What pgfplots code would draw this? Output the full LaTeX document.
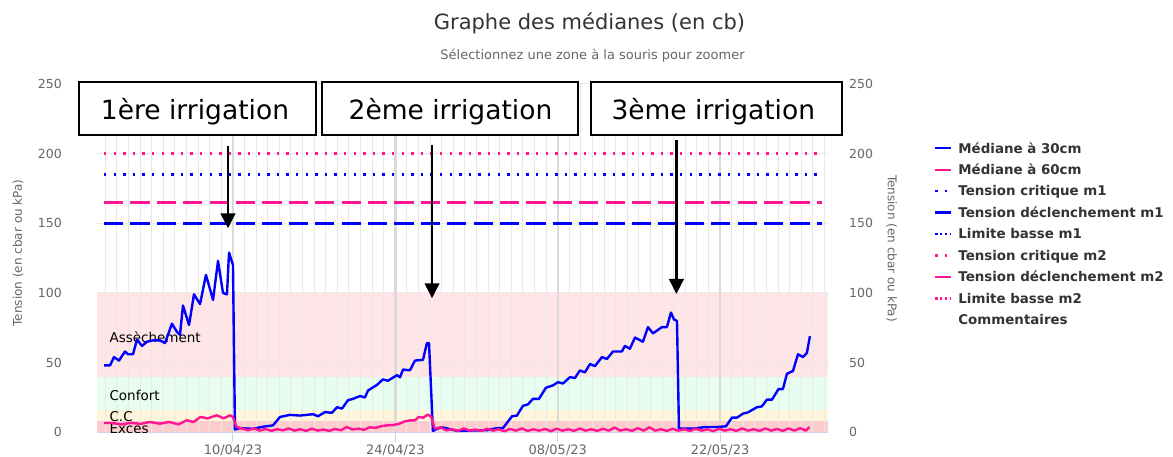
\documentclass[border=0pt]{standalone}
\usepackage{fontspec}
\setmainfont{DejaVu Sans}
\usepackage{pgfplots}
\pgfplotsset{compat=1.18}
\usetikzlibrary{arrows.meta}
\definecolor{mblue}{RGB}{0,0,255}
\definecolor{mpink}{RGB}{255,20,147}
\definecolor{bandA}{RGB}{255,229,229}
\definecolor{bandB}{RGB}{230,253,240}
\definecolor{bandC}{RGB}{254,246,218}
\definecolor{bandD}{RGB}{253,205,205}
\definecolor{gridc}{RGB}{232,232,232}
\definecolor{majgrid}{RGB}{218,218,218}
\definecolor{axisc}{RGB}{204,214,235}
\definecolor{tickc}{RGB}{102,102,102}
\definecolor{titlec}{RGB}{51,51,51}
\newcommand{\fs}[1]{\fontsize{#1}{#1}\selectfont}
\tikzset{
 dotted2/.style={dash pattern=on 2.4pt off 7.2pt, line cap=butt},
 longdash/.style={dash pattern=on 19.2pt off 7.2pt, line cap=butt},
 shortdot/.style={dash pattern=on 2.4pt off 2.4pt, line cap=butt},
}
\begin{document}
\begin{tikzpicture}[x=1pt,y=1pt]
\useasboundingbox (0,0) rectangle (1173,457);
\begin{axis}[
 at={(96.7pt,24.7pt)}, anchor=south west,
 scale only axis, width=731.3pt, height=348.3pt,
 xmin=-11.75, xmax=51.3, ymin=0, ymax=250,
 axis x line*=bottom, axis y line*=left,
 x axis line style={draw=axisc, line width=1pt},
 y axis line style={draw=none},
 xtick={0,14,28,42}, xticklabels={10/04/23,24/04/23,08/05/23,22/05/23},
 ytick={0,50,...,250},
 tick align=outside,
 major tick length=10pt,
 xtick style={draw=axisc, line width=1pt},
 ytick style={draw=none},
 /pgf/number format/assume math mode=true,
 yticklabel style={font=\fs{12.5}, text=tickc, anchor=east, inner sep=0pt, xshift=-24.7pt},
 xticklabel style={font=\fs{13}, text=tickc, anchor=north, inner sep=0pt, yshift=-2.5pt},
 ylabel={Tension (en cbar ou kPa)},
 ylabel style={font=\fs{12}, text=tickc, at={(axis description cs:-0.1076,0.5148)}, anchor=center},
 legend style={at={(1.14495,0.8362)}, anchor=north west, draw=none, fill=none,
   inner sep=0pt, outer sep=0pt, row sep=6.96pt, column sep=6pt,
   font=\fs{13.4}\bfseries, text=titlec,
   nodes={inner sep=0pt, text height=12pt, text depth=2.5pt}},
 legend image code/.code={\draw[#1] (0pt,0pt) -- (16pt,0pt);},
 legend cell align=left,
]
% bands (stacked from the top band down)
\addplot[forget plot, draw=none, fill=bandA] coordinates {(-11.75,100) (51.3,100)} \closedcycle;
\addplot[forget plot, draw=none, fill=bandB] coordinates {(-11.75,40) (51.3,40)} \closedcycle;
\addplot[forget plot, draw=none, fill=bandC] coordinates {(-11.75,16) (51.3,16)} \closedcycle;
\addplot[forget plot, draw=none, fill=bandD] coordinates {(-11.75,8) (51.3,8)} \closedcycle;
% grid
\pgfplotsinvokeforeach{-11,...,51}{\draw[gridc, line width=1pt] (axis cs:#1,0) -- (axis cs:#1,250);}
\pgfplotsinvokeforeach{50,100,150,200,250}{\draw[gridc, line width=1pt] (axis cs:-11.75,#1) -- (axis cs:51.3,#1);}
\pgfplotsinvokeforeach{0,14,28,42}{\draw[majgrid, line width=2.5pt] (axis cs:#1,0) -- (axis cs:#1,250);}
% band labels (clipped to the plot area)
\begin{scope}
\clip (axis cs:-11.75,0) rectangle (axis cs:51.3,250);
\node[anchor=base west, font=\fs{13.5}, inner sep=0pt] at (axis cs:-10.66,64.3) {Assèchement};
\node[anchor=base west, font=\fs{13.5}, inner sep=0pt] at (axis cs:-10.66,22.7) {Confort};
\node[anchor=base west, font=\fs{13.5}, inner sep=0pt] at (axis cs:-10.66,7.6) {C.C};
\node[anchor=base west, font=\fs{13.5}, inner sep=0pt] at (axis cs:-10.66,-1.2) {Excès};
\end{scope}
% Médiane à 30cm
\addplot[mblue, line width=2.4pt, line join=round] coordinates {
(-11.12,48) (-10.60,48) (-10.26,54) (-9.83,51.5) (-9.31,58) (-9.05,56) (-8.62,56)
(-8.28,66.5) (-7.84,62) (-7.41,65) (-6.90,66) (-6.29,66) (-5.86,64) (-5.26,78)
(-4.83,72) (-4.57,70) (-4.31,91) (-3.79,77) (-3.36,99) (-2.84,92) (-2.33,113)
(-1.72,95) (-1.29,123) (-0.86,100) (-0.52,99) (-0.34,129) (0,120) (0.17,2)
(0.60,3) (1.72,2.5) (2.59,4) (3.45,5) (4.05,11) (4.91,12.5) (5.78,12) (6.90,13)
(7.33,11.5) (7.93,14.5) (8.53,14) (8.97,18) (9.40,17) (9.91,23) (10.34,24)
(10.95,26) (11.38,25) (11.64,30) (12.41,34) (12.93,38) (13.36,37) (14.14,41)
(14.40,39.5) (14.66,45) (15.26,44.5) (15.69,51.5) (16.38,52) (16.72,64) (16.90,64)
(17.24,1) (17.59,2.6) (18.10,3.5) (19.31,1) (21.90,1.5) (22.76,3) (23.28,3)
(24.05,11.5) (24.48,12) (25.00,19) (25.43,20) (25.86,24) (26.38,24) (26.98,32)
(27.59,33.7) (28.02,36) (28.45,35) (29.05,39.6) (29.48,39) (29.91,44.4) (30.34,43)
(30.78,49) (31.21,47.5) (31.81,54) (32.24,52.6) (32.76,58) (33.53,58) (33.79,62)
(34.22,60) (34.66,68) (35.34,65) (35.78,75.5) (36.21,71) (36.98,75.5) (37.41,75.5)
(37.76,86) (38.02,81) (38.28,80) (38.45,2.6) (39.66,2.6) (40.69,3.8) (41.72,3.8)
(42.50,4.3) (43.02,10.5) (43.45,10.5) (43.97,13.4) (44.40,14.3) (45.17,18)
(45.60,18.6) (46.03,23.4) (46.47,23.4) (47.03,31) (47.41,31) (47.76,42) (48.28,44)
(48.71,56) (49.14,54) (49.48,57) (49.74,69)
};
\addlegendentry{Médiane à 30cm}
% Médiane à 60cm
\addplot[mpink, line width=2.4pt, line join=round] coordinates {
(-11.12,6.7) (-10.4,6.7) (-9.6,5.7) (-8.8,6.8) (-8.0,6.0) (-7.2,7.4) (-6.3,6.2)
(-5.5,7.4) (-4.7,5.7) (-4.0,8.6) (-3.4,7.4) (-2.8,11) (-2.2,10) (-1.4,12.2)
(-0.8,10) (-0.25,12.2) (0.0,11) (0.3,3.8) (0.8,2.6) (1.3,1.5) (1.8,2.8) (2.3,1.2)
(2.8,2.4) (3.3,1.0) (3.8,2.2) (4.3,1.4) (4.8,2.8) (5.3,1.2) (5.8,2.2) (6.3,1.0)
(6.8,2.6) (7.3,1.2) (7.8,2.0) (8.3,1.0) (8.8,2.4) (9.3,1.4) (9.8,3.8) (10.3,2.0)
(10.8,2.6) (11.3,1.8) (11.8,3.6) (12.3,3.2) (12.8,4.4) (13.3,5.0) (13.8,5.2)
(14.3,6.0) (14.8,7.8) (15.3,8.6) (15.7,8.6) (16.0,11.0) (16.4,10.5) (16.8,12.7)
(17.1,11.0) (17.4,2.6) (17.9,3.6) (18.4,1.4) (18.9,2.2) (19.4,1.0) (19.9,2.8)
(20.4,1.2) (20.9,2.0) (21.4,1.0) (21.9,2.6) (22.4,1.2) (22.9,2.2) (23.4,0.8)
(23.9,2.4) (24.4,1.2) (24.9,2.8) (25.4,1.0) (25.9,2.2) (26.4,1.2) (26.9,2.4)
(27.4,0.8) (27.9,2.6) (28.4,1.2) (28.9,2.2) (29.4,1.0) (29.9,2.8) (30.4,1.2)
(30.9,2.2) (31.4,1.0) (31.9,2.6) (32.4,1.2) (32.9,3.4) (33.4,1.2) (33.9,2.2)
(34.4,1.0) (34.9,3.0) (35.4,1.2) (35.9,3.6) (36.4,1.2) (36.9,2.2) (37.4,1.0)
(37.9,2.6) (38.4,1.2) (38.9,2.2) (39.4,1.0) (39.9,2.6) (40.4,1.2) (40.9,2.2)
(41.4,0.8) (41.9,2.6) (42.4,1.2) (42.9,2.2) (43.4,1.0) (43.9,2.8) (44.4,1.2)
(44.9,2.2) (45.4,1.0) (45.9,2.8) (46.4,1.2) (46.9,2.4) (47.4,1.0) (47.9,2.8)
(48.4,1.2) (48.9,3.0) (49.4,1.2) (49.7,3.8)
};
\addlegendentry{Médiane à 60cm}
% reference lines
\addplot[mblue, line width=2.4pt, dotted2] coordinates {(-11.12,185) (50.8,185)};
\addlegendentry{Tension critique m1}
\addplot[mblue, line width=2.4pt, longdash] coordinates {(-11.12,150) (50.8,150)};
\addlegendentry{Tension déclenchement m1}
\addlegendimage{mblue, line width=2.4pt, shortdot}
\addlegendentry{Limite basse m1}
\addplot[mpink, line width=2.4pt, dotted2] coordinates {(-11.12,200) (50.8,200)};
\addlegendentry{Tension critique m2}
\addplot[mpink, line width=2.4pt, longdash] coordinates {(-11.12,165) (50.8,165)};
\addlegendentry{Tension déclenchement m2}
\addlegendimage{mpink, line width=2.4pt, shortdot}
\addlegendentry{Limite basse m2}
\addlegendimage{empty legend}
\addlegendentry{Commentaires}
% arrows
\draw[black, line width=2.7pt, -{Triangle[length=15pt, width=14.5pt]}] (axis cs:-0.43,205.5) -- (axis cs:-0.43,146.4);
\draw[black, line width=2.7pt, -{Triangle[length=15pt, width=14.5pt]}] (axis cs:17.16,206.2) -- (axis cs:17.16,96.2);
\draw[black, line width=2.7pt, -{Triangle[length=15pt, width=14.5pt]}] (axis cs:38.23,209.8) -- (axis cs:38.23,99.3);
\end{axis}
\begin{axis}[
 at={(96.7pt,24.7pt)}, anchor=south west,
 scale only axis, width=731.3pt, height=348.3pt,
 xmin=-11.75, xmax=51.3, ymin=0, ymax=250,
 axis x line=none, axis y line*=right, y axis line style={draw=none},
 ytick={0,50,...,250}, ytick style={draw=none},
 /pgf/number format/assume math mode=true,
 yticklabel style={font=\fs{12.5}, text=tickc, anchor=west, inner sep=0pt, xshift=21pt},
 ylabel={Tension (en cbar ou kPa)},
 ylabel style={font=\fs{12}, text=tickc, at={(axis description cs:1.0871,0.5277)}, anchor=center, rotate=180},
]
\addplot[draw=none, forget plot] coordinates {(0,0) (1,1)};
\end{axis}
% title
\node[font=\fs{21}, text=titlec, inner sep=0pt] at (589.5,433.7) {Graphe des médianes (en cb)};
\node[font=\fs{13}, text=tickc, inner sep=0pt] at (592.5,401) {Sélectionnez une zone à la souris pour zoomer};
% boxes
\draw[line width=2pt, fill=white] (79,322) rectangle (316,375.3);
\draw[line width=2pt, fill=white] (322,322) rectangle (578,375.3);
\draw[line width=2pt, fill=white] (590.7,322) rectangle (841.7,375.3);
\node[anchor=base, font=\fs{26.5}, inner sep=0pt] at (195,337) {1ère irrigation};
\node[anchor=base, font=\fs{26.5}, inner sep=0pt] at (450.5,337) {2ème irrigation};
\node[anchor=base, font=\fs{26.5}, inner sep=0pt] at (713.3,337) {3ème irrigation};
\end{tikzpicture}
\end{document}
